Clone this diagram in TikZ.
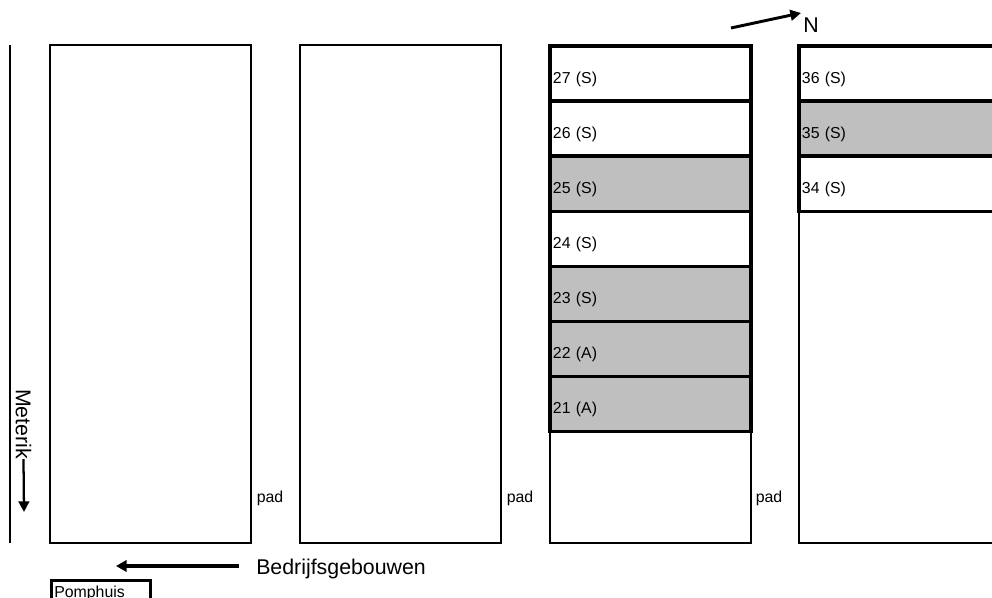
\documentclass[tikz,border=0pt]{standalone}
\usepackage{fontspec}
\setmainfont{Liberation Sans}
\usetikzlibrary{positioning,arrows.meta}

\begin{document}
\begin{tikzpicture}[
  x=0.75pt, y=-0.75pt,
  lot/.style={draw=black, line width=1.9pt, minimum width=150.75pt, minimum height=373.5pt, anchor=north west, inner sep=0pt, outer sep=0pt},
  openlot/.style={lot, minimum width=160pt},
  row/.style={draw=black, line width=2.5pt, minimum width=150.75pt, minimum height=41.3pt, inner xsep=2.2pt, inner ysep=0pt, outer sep=0pt, text width=146.3pt, align=left, text height=15.6pt, text depth=1.2pt, font=\fontsize{11.9}{13}\selectfont},
  openrow/.style={row, minimum width=160pt, text width=155.6pt},
  sold/.style={fill=black!25},
  lab/.style={inner sep=0pt, font=\fontsize{11.9}{13}\selectfont},
  biglab/.style={inner sep=0pt, font=\fontsize{16}{18}\selectfont},
  arrow/.style={-{Triangle[length=8pt,width=8pt]}, line width=1.7pt, black},
  bigarrow/.style={-{Triangle[length=8pt,width=8.5pt]}, line width=3pt, black}
]
\clip (0,0) rectangle (992,598);

% Lots
\node[lot] (lotA) at (50,45) {};
\node[lot, right=36.75pt of lotA] (lotB) {};
\node[lot, right=36.75pt of lotB] (lotC) {};
\node[openlot, right=36pt of lotC] (lotD) {};

% Rows in third lot
\node[row, anchor=north west] (r27) at (550,46) {27 (S)};
\node[row, below=0pt of r27] (r26) {26 (S)};
\node[row, sold, below=0pt of r26] (r25) {25 (S)};
\node[row, below=0pt of r25] (r24) {24 (S)};
\node[row, sold, below=0pt of r24] (r23) {23 (S)};
\node[row, sold, below=0pt of r23] (r22) {22 (A)};
\node[row, sold, below=0pt of r22] (r21) {21 (A)};

% Rows in fourth lot
\node[openrow, anchor=north west] (r36) at (799,46) {36 (S)};
\node[openrow, sold, below=0pt of r36] (r35) {35 (S)};
\node[openrow, below=0pt of r35] (r34) {34 (S)};

% Path labels
\node[lab, anchor=west] (padA) at (256.5,498) {pad};
\node[lab, anchor=west] (padB) at (506.5,498) {pad};
\node[lab, anchor=west] (padC) at (755.5,498) {pad};

% Surroundings
\coordinate (ditchtop) at (10,45);
\coordinate (ditchend) at (10,543);
\draw[line width=1.9pt] (ditchtop) -- (ditchend);
\node[biglab, rotate=-90] (meterik) at (23.5,424) {Meterik};
\coordinate (meterikend) at (24,512);
\draw[arrow] (meterik.east) -- (meterikend);

\node[biglab, anchor=west] (gebouwen) at (256,569) {Bedrijfsgebouwen};
\coordinate (gebouwenstart) at (239,566);
\coordinate (gebouwenend) at (116,566);
\draw[bigarrow] (gebouwenstart) -- (gebouwenend);

\node[lab, draw=black, line width=1.9pt, minimum width=74.5pt, minimum height=30pt, inner sep=0pt, anchor=north west] (pomp) at (50,579) {};
\node[lab, anchor=west] (pomplab) at (54,593) {Pomphuis};

\node[biglab, anchor=west] (north) at (803,25) {N};
\coordinate (northstart) at (731,28);
\coordinate (northend) at (801,13);
\draw[arrow, line width=2.2pt] (northstart) -- (northend);
\end{tikzpicture}
\end{document}
